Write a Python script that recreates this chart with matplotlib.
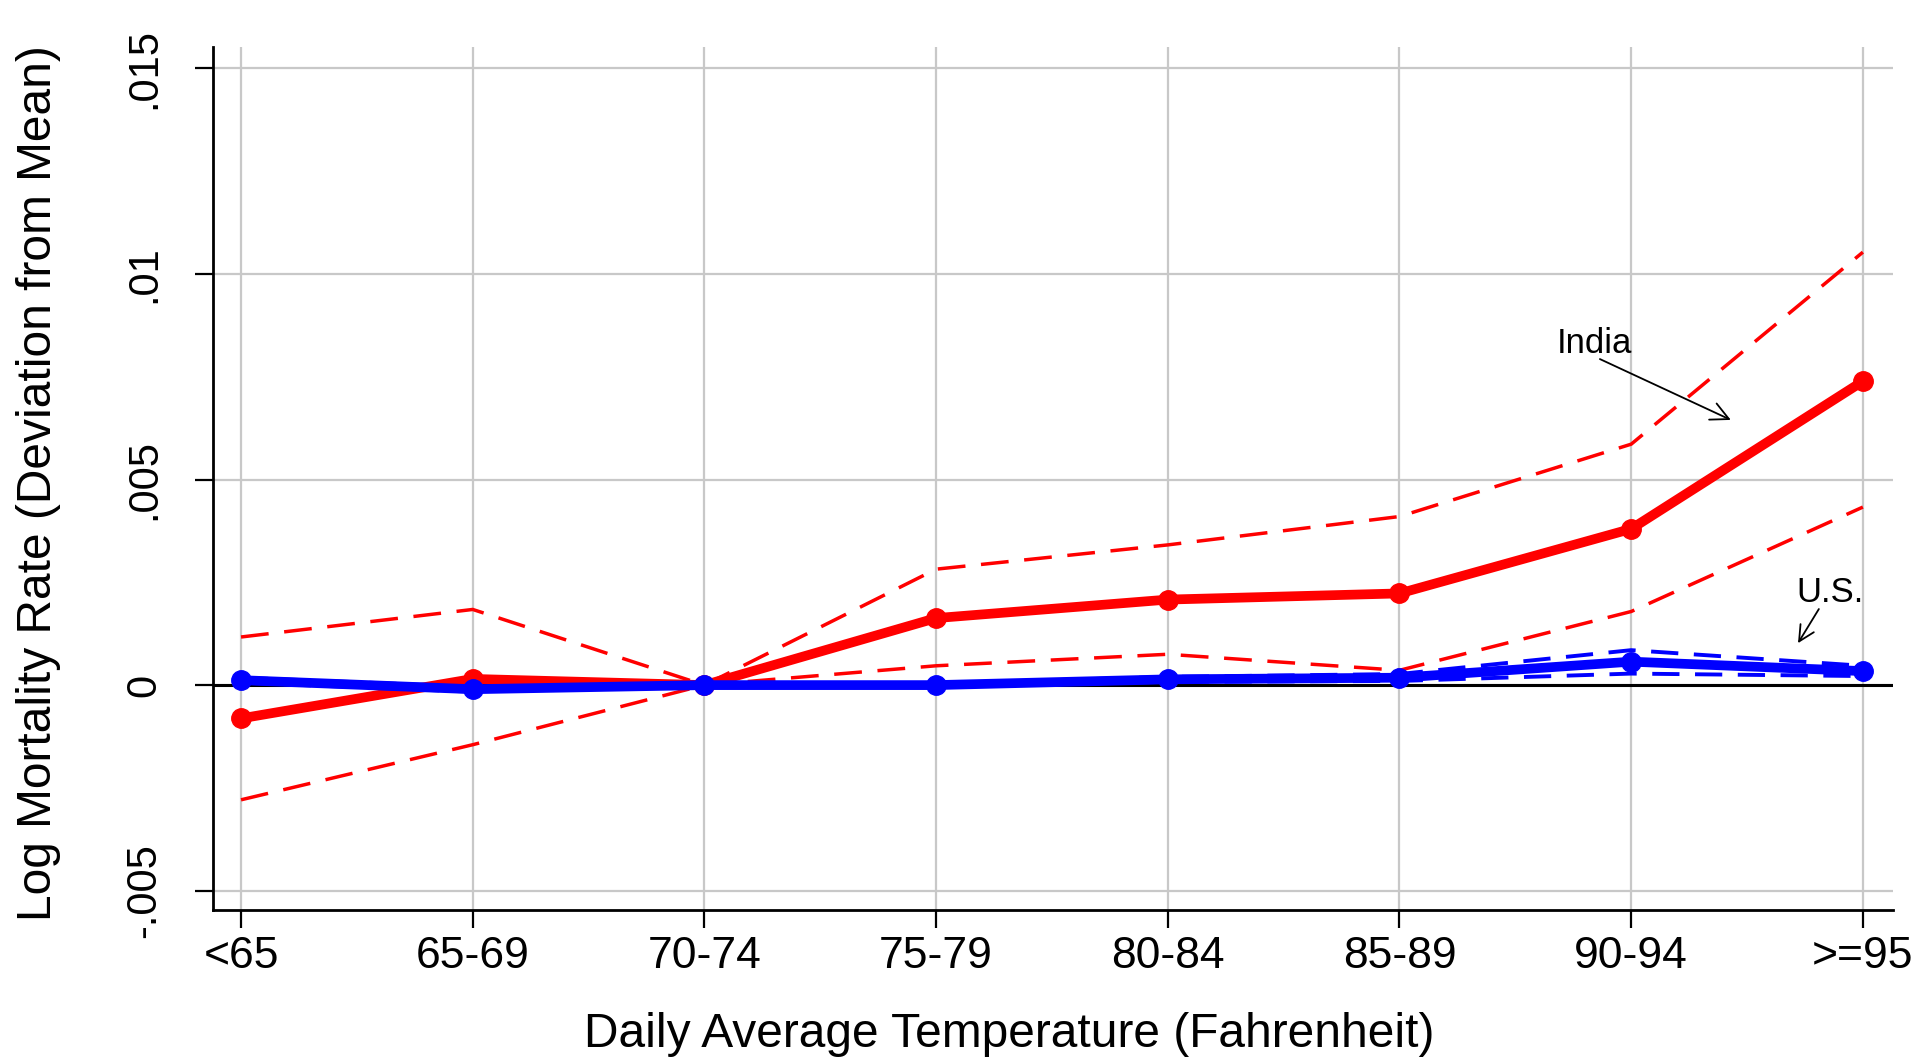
import matplotlib
matplotlib.use('Agg')
import matplotlib.pyplot as plt
import numpy as np

plt.rcParams['font.family'] = ['Liberation Sans', 'DejaVu Sans']

# Temperature bins
bins = ['<65', '65-69', '70-74', '75-79', '80-84', '85-89', '90-94', '>=95']

# India: point estimates and 95% CI
india = [-0.00081, 0.00015, 0.0, 0.00163, 0.00208, 0.00223, 0.0038, 0.00739]
india_hi = [0.00117, 0.00184, 0.0, 0.00282, 0.00341, 0.0041, 0.00586, 0.01053]
india_lo = [-0.00279, -0.00145, 0.0, 0.00047, 0.00075, 0.00036, 0.00179, 0.00433]

# U.S.: point estimates and 95% CI
us = [0.00012, -0.0001, 0.0, 0.0, 0.00014, 0.00018, 0.00057, 0.00034]
us_hi = [0.00018, -0.00004, 0.0, 0.00004, 0.0002, 0.00027, 0.00085, 0.00047]
us_lo = [0.00006, -0.00016, 0.0, -0.00004, 0.00008, 0.0001, 0.00028, 0.00022]

yticks = [-0.005, 0.0, 0.005, 0.01, 0.015]
ytick_labels = ['-.005', '0', '.005', '.01', '.015']

RED = '#ff0000'
BLUE = '#0000ff'
GRID = '#c8c8c8'

fig = plt.figure(figsize=(19.21, 10.57), dpi=100)
ax = fig.add_axes([213/1921, 1 - 910/1057, 1680/1921, 863/1057])
x = np.arange(len(bins))

ax.axhline(0, color='black', lw=2.2, zorder=2)

# India
ax.plot(x, india_hi, color=RED, lw=2.5, dashes=(8, 4.5), zorder=3)
ax.plot(x, india_lo, color=RED, lw=2.5, dashes=(8, 4.5), zorder=3)
ax.plot(x, india, color=RED, lw=7, marker='o', markersize=14, zorder=4)

# U.S.
ax.plot(x, us_hi, color=BLUE, lw=2.8, dashes=(7, 4), zorder=5)
ax.plot(x, us_lo, color=BLUE, lw=2.8, dashes=(7, 4), zorder=5)
ax.plot(x, us, color=BLUE, lw=7, marker='o', markersize=14, zorder=6)

# labels with arrows
ax.text(5.84, 0.0083, 'India', fontsize=25, ha='center', va='center')
ax.annotate('', xy=(6.43, 0.00645), xytext=(5.865, 0.00793),
            arrowprops=dict(arrowstyle='->', color='black', lw=1.3,
                            mutation_scale=32, shrinkA=0, shrinkB=0))
ax.text(6.86, 0.00226, 'U.S.', fontsize=25, ha='center', va='center')
ax.annotate('', xy=(6.72, 0.00102), xytext=(6.81, 0.00185),
            arrowprops=dict(arrowstyle='->', color='black', lw=1.3,
                            mutation_scale=28, shrinkA=0, shrinkB=0))

ax.set_xlim(-0.121, 7.13)
ax.set_ylim(-0.00547, 0.01552)
ax.set_xticks(x)
ax.set_xticklabels(bins, fontsize=32)
ax.set_yticks(yticks)
ax.set_yticklabels(ytick_labels, fontsize=30, rotation=90, va='center')

ax.grid(True, color=GRID, lw=1.6)
ax.set_axisbelow(True)
for s in ['top', 'right']:
    ax.spines[s].set_visible(False)
for s in ['left', 'bottom']:
    ax.spines[s].set_linewidth(2)
ax.tick_params(axis='both', length=13, width=1.6, direction='out')
ax.tick_params(axis='x', pad=6)
ax.tick_params(axis='y', pad=22)

ax.set_xlabel('Daily Average Temperature (Fahrenheit)', fontsize=34.5)
ax.xaxis.set_label_coords(0.474, -0.118)
ax.set_ylabel('Log Mortality Rate (Deviation from Mean)', fontsize=34.5)
ax.yaxis.set_label_coords(-0.0905, 0.495)

fig.savefig('out.png', dpi=100)
